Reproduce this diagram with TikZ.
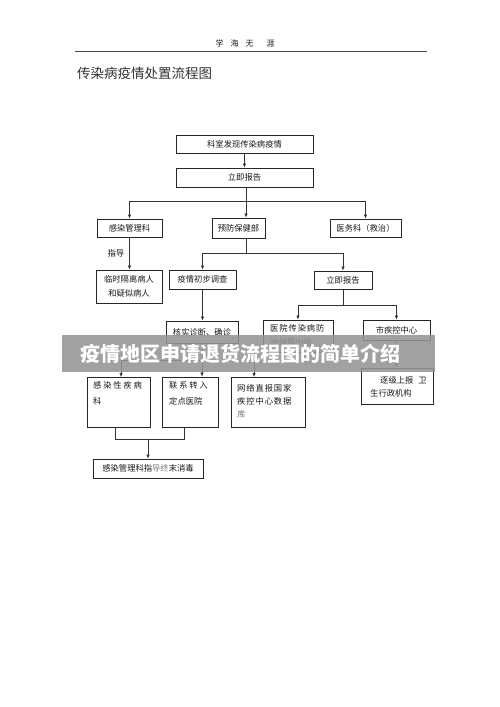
\documentclass[tikz,border=0pt]{standalone}
\usepackage{fontspec}
\setmainfont{Noto Sans CJK SC}
\usetikzlibrary{arrows.meta,calc}
\newcommand\ks{\kern1.8pt}
\newcommand\kt{\kern0.9pt}
\begin{document}
\begin{tikzpicture}[x=1pt,y=-1pt,
  font=\fontsize{8.3}{10}\selectfont,
  box/.style={draw=black!85, line width=0.75pt, inner sep=0pt, align=center, text=black!90},
  txt/.style={inner sep=0pt, text=black!90, align=left},
  conn/.style={draw=black!80, line width=0.65pt},
  arr/.style={conn, -{Latex[length=4pt,width=3.4pt]}}]
\fill[white] (0,0) rectangle (500,707);
\useasboundingbox (0,0) rectangle (500,707);

% header
\node[txt, font=\fontsize{8}{10}\selectfont] (hdr) at (245,43) {学\hspace{7pt}海\hspace{7pt}无\hspace{13pt}涯};
\coordinate (hl) at (75,51);
\coordinate (hr) at (427,51);
\draw[black!70, line width=0.7pt] (hl) -- (hr);
\node[txt, anchor=west, font=\fontsize{13.5}{15}\selectfont, text=black!80] (title) at (77,73) {传染病疫情处置流程图};

% boxes
\node[box, minimum width=137pt, minimum height=18pt] (b1) at (244.5,144) {科室发现传染病疫情};
\node[box, minimum width=137pt, minimum height=19pt] (b2) at (244.5,177.5) {立即报告};
\node[box, minimum width=65pt, minimum height=18pt] (b3) at (129.5,228) {感染管理科};
\node[box, minimum width=53pt, minimum height=20pt] (b4) at (238.5,228) {预防保健部};
\node[box, minimum width=71pt, minimum height=18pt] (b5) at (365.5,228) {医务科（救治）};
\node[box, minimum width=66pt, minimum height=33pt, font=\fontsize{8.3}{14}\selectfont] (b6) at (129,286.5) {临时隔离病人\\和疑似病人};
\node[box, minimum width=67pt, minimum height=19pt] (b7) at (202.5,279.5) {疫情初步调查};
\node[box, minimum width=58pt, minimum height=18pt] (b8) at (343,280) {立即报告};
\node[box, minimum width=72pt, minimum height=22pt] (b9) at (202,332) {核实诊断、确诊};
\node[box, minimum width=70pt, minimum height=32pt] (b10) at (298,336) {};
\node[txt, anchor=north west, font=\fontsize{8.3}{14}\selectfont] (b10t) at (270,324) {医\kt 院\kt 传\kt 染\kt 病\kt 防\\治领导小组};
\node[box, minimum width=67pt, minimum height=20pt] (b11) at (396.5,330) {市疾控中心};
\node[box, minimum width=72pt, minimum height=36pt] (b12) at (397,386) {};
\node[txt, anchor=west] (b12a) at (380,380) {逐级上报\hspace{5pt}卫};
\node[txt, anchor=west] (b12b) at (370,393) {生行政机构};
\node[box, minimum width=63pt, minimum height=50pt] (b13) at (118.5,402) {};
\node[txt, anchor=north west, font=\fontsize{8.3}{16}\selectfont] (b13t) at (93,381) {感\ks 染\ks 性\ks 疾\ks 病\\科};
\node[box, minimum width=56pt, minimum height=50pt] (b14) at (190,402) {};
\node[txt, anchor=north west, font=\fontsize{8.3}{16}\selectfont] (b14t) at (169,381) {联\ks 系\ks 转\ks 入\\定点医院};
\node[box, minimum width=74pt, minimum height=50pt] (b15) at (268,402) {};
\node[txt, anchor=north west, font=\fontsize{8.3}{13}\selectfont] (b15t) at (237,384) {网\kt 络\kt 直\kt 报\kt 国\kt 家\\疾\kt 控\kt 中\kt 心\kt 数\kt 据\\{\color{black!55}库}};
\node[box, minimum width=110pt, minimum height=19pt] (b16) at (148,468.5) {感染管理科指{\color{black!50}导终}末消毒};

% connectors
\draw[arr] (b1.south) -- (b2.north);
\coordinate (j1) at (246,201);
\draw[conn] (j1 |- b2.south) -- (j1);
\draw[arr] (j1) -| (b3.north);
\draw[arr] (j1) -- (j1 |- b4.north);
\draw[arr] (j1) -| (b5.north);
\draw[arr] (b3.south) -- node[left=5pt, txt] (lbl) {指导} (b3.south |- b6.north);
\coordinate (j2) at (246,253);
\draw[conn] (j2 |- b4.south) -- (j2);
\draw[arr] (j2) -| (b7.north);
\draw[arr] (j2) -| (b8.north);
\draw[arr] (b7.south) -- (b7.south |- b9.north);
\coordinate (j3) at (343,305);
\draw[conn] (b8.south) -- (j3);
\draw[arr] (j3) -| (b10.north);
\draw[arr] (j3) -| (b11.north);
\draw[arr] (b11.south) -- (b11.south |- b12.north);
\coordinate (j4) at (202,360);
\draw[conn] (b9.south) -- (j4);
\coordinate (t13) at (121,377);
\coordinate (t15) at (254,377);
\draw[arr] (j4) -| (t13);
\draw[arr] (j4) -- (j4 |- b14.north);
\draw[arr] (j4) -| (t15);
\coordinate (k1) at (115,427);
\coordinate (k2) at (184,427);
\coordinate (j5) at (148,439);
\draw[conn] (k1) -- (k1 |- j5) -- (k2 |- j5) -- (k2);
\draw[arr] (j5) -- (j5 |- b16.north);

% banner
\fill[black!42, opacity=0.88] (62,335) rectangle (435,372);
\node[inner sep=0pt, text=white, font=\fontsize{20}{22}\selectfont\bfseries] (banner) at (240,353.5) {疫情地区申请退货流程图的简单介绍};
\end{tikzpicture}
\end{document}
